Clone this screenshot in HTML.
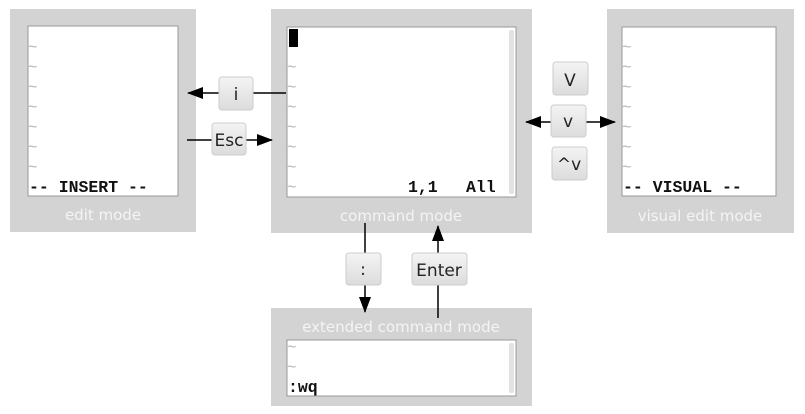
<!DOCTYPE html><html><head><style>body{margin:0;background:#fff}svg{display:block}
.t{fill:#b5b5b5;font:16px "Liberation Mono",monospace}
.m{font:bold 16.5px "Liberation Mono",monospace;fill:#111;white-space:pre}
.l{font:15px "DejaVu Sans",sans-serif;fill:#f4f4f4;text-anchor:middle}
.k{font:17px "DejaVu Sans",sans-serif;fill:#222;text-anchor:middle}
</style></head><body>
<svg width="805" height="414" viewBox="0 0 805 414" xmlns="http://www.w3.org/2000/svg">
<defs><linearGradient id="g" x1="0" y1="0" x2="0" y2="1"><stop offset="0" stop-color="#f4f4f4"/><stop offset="1" stop-color="#dcdcdc"/></linearGradient>
<marker id="a" markerWidth="16" markerHeight="12" refX="15" refY="6" orient="auto" markerUnits="userSpaceOnUse"><path d="M0,0 L16,6 L0,12z" fill="#000"/></marker></defs>
<rect x="10" y="9" width="186" height="223" fill="#d3d3d3"/>
<rect x="28" y="26" width="150" height="170" fill="#fff" stroke="#999"/>
<rect x="271" y="9" width="261" height="224" fill="#d3d3d3"/>
<rect x="287" y="27" width="229" height="170" fill="#fff" stroke="#999"/>
<rect x="509" y="30" width="5" height="164" rx="2" fill="#e2e2e2"/>
<rect x="607" y="9" width="187" height="224" fill="#d3d3d3"/>
<rect x="622" y="27" width="154" height="169" fill="#fff" stroke="#999"/>
<rect x="271" y="308" width="261" height="98" fill="#d3d3d3"/>
<rect x="287" y="340" width="229" height="56" fill="#fff" stroke="#999"/>
<rect x="509" y="343" width="5" height="50" rx="2" fill="#e2e2e2"/>
<rect x="289" y="29" width="9" height="18" fill="#000"/>
<g class="t">
<text x="28" y="52">~</text><text x="28" y="72">~</text><text x="28" y="92">~</text><text x="28" y="112">~</text><text x="28" y="132">~</text><text x="28" y="152">~</text><text x="28" y="172">~</text>
<text x="287" y="72">~</text><text x="287" y="92">~</text><text x="287" y="112">~</text><text x="287" y="132">~</text><text x="287" y="152">~</text><text x="287" y="172">~</text><text x="287" y="192">~</text>
<text x="622" y="52">~</text><text x="622" y="72">~</text><text x="622" y="92">~</text><text x="622" y="112">~</text><text x="622" y="132">~</text><text x="622" y="152">~</text><text x="622" y="172">~</text>
<text x="287" y="352">~</text><text x="287" y="372">~</text></g>
<text class="m" x="29" y="192" xml:space="preserve">-- INSERT --</text>
<text class="m" x="408" y="192">1,1</text>
<text class="m" x="466" y="192">All</text>
<text class="m" x="623" y="192" xml:space="preserve">-- VISUAL --</text>
<text class="m" x="288" y="392">:wq</text>
<text class="l" x="103" y="220">edit mode</text>
<text class="l" x="401" y="221">command mode</text>
<text class="l" x="700" y="221">visual edit mode</text>
<text class="l" x="401" y="332">extended command mode</text>
<g stroke="#000" stroke-width="1.5" fill="none">
<line x1="286" y1="93" x2="188" y2="93" marker-end="url(#a)"/>
<line x1="187" y1="140" x2="272" y2="140" marker-end="url(#a)"/>
<line x1="560" y1="122" x2="526" y2="122" marker-end="url(#a)"/>
<line x1="580" y1="122" x2="615" y2="122" marker-end="url(#a)"/>
<line x1="365" y1="223" x2="365" y2="312" marker-end="url(#a)"/>
<line x1="438" y1="318" x2="438" y2="226" marker-end="url(#a)"/>
</g>
<g stroke="#ccc" fill="url(#g)">
<rect x="219" y="77" width="34" height="33" rx="3"/>
<rect x="212" y="123" width="34" height="32" rx="3"/>
<rect x="553" y="62" width="35" height="33" rx="3"/>
<rect x="551" y="105" width="35" height="32" rx="3"/>
<rect x="552" y="147" width="35" height="33" rx="3"/>
<rect x="346" y="253" width="35" height="32" rx="3"/>
<rect x="412" y="253" width="55" height="32" rx="3"/>
</g>
<text class="k" x="236" y="100">i</text>
<text class="k" x="229" y="146">Esc</text>
<text class="k" x="570" y="86">V</text>
<text class="k" x="568" y="127">v</text>
<text class="k" x="569" y="170">^v</text>
<text class="k" x="363" y="275">:</text>
<text class="k" x="439" y="276">Enter</text>
</svg></body></html>
